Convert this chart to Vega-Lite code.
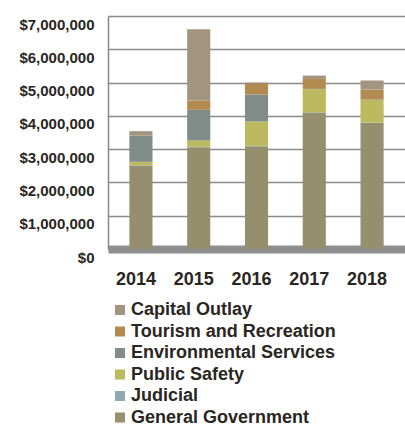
{
  "$schema": "https://vega.github.io/schema/vega-lite/v6.json",
  "width": 297,
  "height": 233,
  "autosize": {"type": "none"},
  "padding": {"left": 108, "top": 16, "right": 0, "bottom": 183},
  "background": "white",
  "config": {"font": "Liberation Sans", "view": {"stroke": null}},
  "data": {"values": [
    {"year": "2014", "category": "General Government", "amount": 2510000, "ord": 1},
    {"year": "2014", "category": "Judicial", "amount": 10000, "ord": 2},
    {"year": "2014", "category": "Public Safety", "amount": 100000, "ord": 3},
    {"year": "2014", "category": "Environmental Services", "amount": 790000, "ord": 4},
    {"year": "2014", "category": "Tourism and Recreation", "amount": 10000, "ord": 5},
    {"year": "2014", "category": "Capital Outlay", "amount": 120000, "ord": 6},
    {"year": "2015", "category": "General Government", "amount": 3060000, "ord": 1},
    {"year": "2015", "category": "Judicial", "amount": 10000, "ord": 2},
    {"year": "2015", "category": "Public Safety", "amount": 190000, "ord": 3},
    {"year": "2015", "category": "Environmental Services", "amount": 920000, "ord": 4},
    {"year": "2015", "category": "Tourism and Recreation", "amount": 280000, "ord": 5},
    {"year": "2015", "category": "Capital Outlay", "amount": 2140000, "ord": 6},
    {"year": "2016", "category": "General Government", "amount": 3090000, "ord": 1},
    {"year": "2016", "category": "Judicial", "amount": 10000, "ord": 2},
    {"year": "2016", "category": "Public Safety", "amount": 730000, "ord": 3},
    {"year": "2016", "category": "Environmental Services", "amount": 810000, "ord": 4},
    {"year": "2016", "category": "Tourism and Recreation", "amount": 330000, "ord": 5},
    {"year": "2016", "category": "Capital Outlay", "amount": 30000, "ord": 6},
    {"year": "2017", "category": "General Government", "amount": 4100000, "ord": 1},
    {"year": "2017", "category": "Judicial", "amount": 10000, "ord": 2},
    {"year": "2017", "category": "Public Safety", "amount": 690000, "ord": 3},
    {"year": "2017", "category": "Environmental Services", "amount": 10000, "ord": 4},
    {"year": "2017", "category": "Tourism and Recreation", "amount": 300000, "ord": 5},
    {"year": "2017", "category": "Capital Outlay", "amount": 100000, "ord": 6},
    {"year": "2018", "category": "General Government", "amount": 3790000, "ord": 1},
    {"year": "2018", "category": "Judicial", "amount": 10000, "ord": 2},
    {"year": "2018", "category": "Public Safety", "amount": 680000, "ord": 3},
    {"year": "2018", "category": "Environmental Services", "amount": 10000, "ord": 4},
    {"year": "2018", "category": "Tourism and Recreation", "amount": 300000, "ord": 5},
    {"year": "2018", "category": "Capital Outlay", "amount": 270000, "ord": 6}
  ]},
  "mark": {"type": "bar", "stroke": null},
  "encoding": {
    "x": {
      "field": "year", "type": "nominal", "title": null,
      "scale": {"paddingInner": 0.6, "paddingOuter": 0.37},
      "axis": {"labelAngle": 0, "labelFontSize": 18, "labelFontWeight": "bold", "labelColor": "#2a2622", "ticks": false, "domainColor": "#8f8f8f", "domainWidth": 8, "labelPadding": 21, "labelOffset": -5}
    },
    "y": {
      "field": "amount", "type": "quantitative", "title": null, "stack": "zero",
      "scale": {"domain": [0, 7000000], "nice": false},
      "axis": {"format": "$,.0f", "values": [0, 1000000, 2000000, 3000000, 4000000, 5000000, 6000000, 7000000], "labelOverlap": false, "labelFontSize": 15, "labelFontWeight": "bold", "labelColor": "#2a2622", "ticks": false, "labelPadding": 14, "labelOffset": 8, "domainColor": "#888", "domainWidth": 1.5, "gridColor": "#8a8a8a", "gridWidth": 1.5}
    },
    "color": {
      "field": "category", "type": "nominal", "title": null,
      "scale": {
        "domain": ["Capital Outlay", "Tourism and Recreation", "Environmental Services", "Public Safety", "Judicial", "General Government"],
        "range": ["#a39480", "#b38b50", "#7f8c87", "#bdb95e", "#8faab0", "#958f6d"]
      },
      "legend": {"orient": "none", "legendX": 3, "legendY": 285, "symbolType": "square", "symbolSize": 100, "symbolStrokeWidth": 0, "labelFontSize": 18, "labelFontWeight": "bold", "labelColor": "#2a2622", "labelLimit": 300, "rowPadding": 3.5, "symbolOffset": 0, "labelOffset": 2}
    },
    "order": {"field": "ord", "type": "quantitative", "sort": "ascending"}
  }
}
